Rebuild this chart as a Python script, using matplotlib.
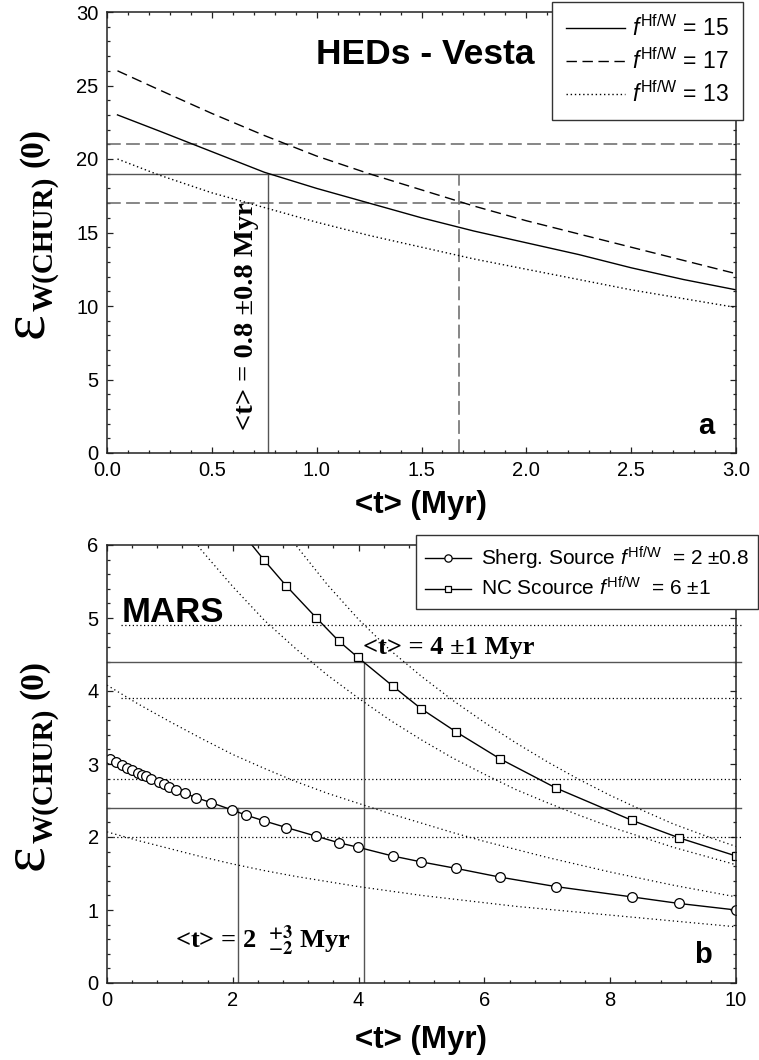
import matplotlib
matplotlib.use('Agg')
import matplotlib.pyplot as plt
from matplotlib.ticker import MultipleLocator, FormatStrFormatter

# ---------------- data: panel a (HEDs - Vesta) ----------------
t_a = [0.05, 0.25, 0.5, 0.75, 1.0, 1.25, 1.5, 1.75, 2.0, 2.25, 2.5, 2.75, 3.0]
eps_f15 = [23.0, 21.9, 20.5, 19.1, 18.0, 17.0, 16.0, 15.1, 14.3, 13.5, 12.6, 11.8, 11.1]
eps_f17 = [26.0, 24.7, 23.1, 21.6, 20.2, 19.0, 17.9, 16.8, 15.8, 14.9, 14.0, 13.1, 12.2]
eps_f13 = [20.0, 18.9, 17.7, 16.7, 15.7, 14.8, 14.0, 13.2, 12.5, 11.8, 11.1, 10.5, 9.9]
labels_a = [r'$\mathit{f}^{\mathrm{Hf/W}}$ = 15',
            r'$\mathit{f}^{\mathrm{Hf/W}}$ = 17',
            r'$\mathit{f}^{\mathrm{Hf/W}}$ = 13']
hlines_a_dashed = [21, 17]
hline_a_solid = 19
vline_a_solid = 0.77
vline_a_dashed = 1.68

# ---------------- data: panel b (MARS) ----------------
t_sherg = [0.04, 0.14, 0.24, 0.32, 0.39, 0.49, 0.55, 0.62, 0.70, 0.83, 0.90, 0.99, 1.10, 1.24,
           1.41, 1.66, 1.99, 2.21, 2.50, 2.85, 3.33, 3.69, 3.99, 4.54, 4.99, 5.55, 6.25, 7.14,
           8.34, 9.09, 10.0]
eps_sherg = [3.07, 3.03, 2.99, 2.95, 2.92, 2.88, 2.85, 2.83, 2.80, 2.75, 2.72, 2.69, 2.65, 2.60,
             2.54, 2.47, 2.37, 2.30, 2.22, 2.13, 2.01, 1.92, 1.86, 1.74, 1.66, 1.57, 1.45, 1.32,
             1.18, 1.09, 1.00]
t_nc = [1.99, 2.21, 2.50, 2.85, 3.33, 3.69, 3.99, 4.54, 4.99, 5.55, 6.25, 7.14, 8.34, 9.09, 10.0]
eps_nc = [6.38, 6.10, 5.79, 5.44, 5.00, 4.68, 4.46, 4.07, 3.76, 3.44, 3.07, 2.67, 2.23, 1.99, 1.74]

t_env = [0, 0.5, 1, 1.5, 2, 2.5, 3, 3.5, 4, 4.5, 5, 5.5, 6, 6.5, 7, 7.5, 8, 8.5, 9, 9.5, 10]
sherg_hi = [4.08, 3.82, 3.58, 3.35, 3.13, 2.94, 2.76, 2.60, 2.46, 2.32, 2.19, 2.06, 1.94, 1.83,
            1.72, 1.62, 1.52, 1.43, 1.34, 1.26, 1.18]
sherg_lo = [2.07, 1.95, 1.84, 1.73, 1.63, 1.54, 1.46, 1.39, 1.32, 1.26, 1.20, 1.15, 1.10, 1.05,
            1.01, 0.97, 0.93, 0.89, 0.85, 0.81, 0.77]
t_nc_lo = [1.0, 1.5, 2, 2.5, 3, 3.5, 4, 4.5, 5, 5.5, 6, 6.5, 7, 7.5, 8, 8.5, 9, 9.5, 10]
nc_lo = [6.50, 5.93, 5.43, 4.97, 4.58, 4.22, 3.90, 3.60, 3.33, 3.08, 2.86, 2.65, 2.47, 2.30,
         2.14, 2.00, 1.86, 1.74, 1.62]
t_nc_hi = [2.5, 3.0, 3.5, 4, 4.5, 5, 5.5, 6, 6.5, 7, 7.5, 8, 8.5, 9, 9.5, 10]
nc_hi = [6.60, 6.00, 5.46, 4.98, 4.56, 4.20, 3.87, 3.57, 3.29, 3.03, 2.79, 2.57, 2.37, 2.18,
         2.02, 1.87]
labels_b = [r'Sherg. Source $\mathit{f}^{\mathrm{Hf/W}}$  = 2 ±0.8',
            r'NC Scource $\mathit{f}^{\mathrm{Hf/W}}$  = 6 ±1']
hlines_b_solid = [4.4, 2.4]
hlines_b_dotted = [4.9, 3.9, 2.8, 2.0]
hlines_b_dotted_start = [0.22, 0.22, 0.1, 0.1]
vlines_b = [(2.09, 2.4), (4.08, 4.4)]

plt.rcParams.update({
    'font.family': ['Liberation Sans', 'DejaVu Sans'],
    'mathtext.fontset': 'custom',
    'mathtext.rm': 'Liberation Sans',
    'mathtext.it': 'Liberation Sans:italic',
    'mathtext.bf': 'Liberation Sans:bold',
})

W, H = 759, 1060
fig = plt.figure(figsize=(W / 100, H / 100), dpi=100)
axA = fig.add_axes([107 / W, 1 - 453 / H, 629 / W, 441 / H])
axB = fig.add_axes([107 / W, 1 - 983 / H, 629 / W, 438 / H])

GRAY = '#666666'
DGRAY = '#555555'
SERIF = 'Liberation Serif'


def style(ax, xmaj, xmin, ymaj, ymin):
    ax.xaxis.set_major_locator(MultipleLocator(xmaj))
    ax.xaxis.set_minor_locator(MultipleLocator(xmin))
    ax.yaxis.set_major_locator(MultipleLocator(ymaj))
    ax.yaxis.set_minor_locator(MultipleLocator(ymin))
    ax.tick_params(which='both', direction='in', top=True, right=True,
                   labelsize=14.5, pad=6, color='#222222')
    ax.tick_params(which='major', length=4.5, width=0.9)
    ax.tick_params(which='minor', length=2.5, width=0.9)
    for s in ax.spines.values():
        s.set_linewidth(1.1)
        s.set_color('#222222')


# ---------------- panel a ----------------
axA.set_xlim(0, 3)
axA.set_ylim(0, 30)
style(axA, 0.5, 0.1, 5, 1)
axA.xaxis.set_major_formatter(FormatStrFormatter('%.1f'))

for yv in hlines_a_dashed:
    axA.plot([0, 3.02], [yv, yv], color=GRAY, lw=1.1, dashes=(9, 3.5), clip_on=False)
axA.plot([0, 3.02], [hline_a_solid, hline_a_solid], color=DGRAY, lw=1.0, clip_on=False)
axA.plot([vline_a_solid, vline_a_solid], [0, hline_a_solid], color=DGRAY, lw=1.0)
axA.plot([vline_a_dashed, vline_a_dashed], [0, hline_a_solid], color=GRAY, lw=1.1, dashes=(9, 3.5))

l15, = axA.plot(t_a, eps_f15, color='black', lw=1.0)
l17, = axA.plot(t_a, eps_f17, color='black', lw=1.0, dashes=(7.5, 4))
l13, = axA.plot(t_a, eps_f13, color='black', lw=1.0, dashes=(1, 2))

legA = axA.legend([l15, l17, l13], labels_a, loc='upper right',
                  bbox_to_anchor=(743 / W, 1 - 2 / H), bbox_transform=fig.transFigure,
                  frameon=True, fancybox=False, edgecolor='#333333', framealpha=1,
                  fontsize=16.5, handlelength=2.6, handletextpad=0.3, labelspacing=0.3,
                  borderpad=0.6, borderaxespad=0)
legA.get_frame().set_linewidth(1.0)

axA.text(1.516, 27.1, 'HEDs - Vesta', fontsize=25.5, fontweight='bold', ha='center', va='center')
axA.text(2.86, 1.84, 'a', fontsize=21, fontweight='bold', ha='center', va='center')
axA.text(0.665, 9.3, '<t> = 0.8 ±0.8 Myr', rotation=90, fontsize=20.5,
         fontfamily=SERIF, fontweight='bold', ha='center', va='center')

# ---------------- panel b ----------------
axB.set_xlim(0, 10)
axB.set_ylim(0, 6)
style(axB, 2, 0.4, 1, 0.2)

for yv in hlines_b_solid:
    axB.plot([0, 10.08], [yv, yv], color=DGRAY, lw=1.0, clip_on=False)
for yv, x0 in zip(hlines_b_dotted, hlines_b_dotted_start):
    axB.plot([x0, 10.08], [yv, yv], color='black', lw=0.9, dashes=(1, 2), clip_on=False)
for xv, ytop in vlines_b:
    axB.plot([xv, xv], [0, ytop], color=DGRAY, lw=1.0)

for tt, ee in [(t_env, sherg_hi), (t_env, sherg_lo), (t_nc_lo, nc_lo), (t_nc_hi, nc_hi)]:
    axB.plot(tt, ee, color='black', lw=0.9, dashes=(1, 2.4))

ls, = axB.plot(t_sherg, eps_sherg, color='black', lw=1.0, marker='o', ms=7,
               mfc='white', mec='black', mew=0.9)
lnc, = axB.plot(t_nc, eps_nc, color='black', lw=1.0, marker='s', ms=6,
                mfc='white', mec='black', mew=0.9)

legB = axB.legend([ls, lnc], labels_b, loc='upper right',
                  bbox_to_anchor=(758 / W, 1 - 535 / H), bbox_transform=fig.transFigure,
                  frameon=True, fancybox=False, edgecolor='#333333', framealpha=1,
                  fontsize=15, handlelength=2.2, handletextpad=0.45, labelspacing=0.25,
                  borderpad=0.45, borderaxespad=0, markerscale=0.75)
legB.get_frame().set_linewidth(1.0)

axB.text(0.24, 5.08, 'MARS', fontsize=25, fontweight='bold', ha='left', va='center')
axB.text(9.48, 0.38, 'b', fontsize=21, fontweight='bold', ha='center', va='center')
axB.text(4.07, 4.60, '<t> = 4 ±1 Myr', fontsize=19, fontfamily=SERIF,
         fontweight='bold', ha='left', va='center')
axB.text(1.08, 0.48, r'<t> = 2 $\ ^{\mathbf{+3}}_{\mathbf{-2}}\ $Myr', fontsize=19,
         fontfamily=SERIF, fontweight='bold', math_fontfamily='stix',
         ha='left', va='baseline')


# ---------------- axis labels ----------------
def ylabel_at(dy):
    kw = dict(rotation=90, rotation_mode='anchor', ha='left', va='baseline', fontfamily=SERIF)
    fig.text(42 / W, 1 - (338 + dy) / H, 'ε', fontsize=44, **kw)
    fig.text(52 / W, 1 - (311 + dy) / H, 'W(CHUR)', fontsize=21, fontweight='bold', **kw)
    fig.text(42 / W, 1 - (167 + dy) / H, '(0)', fontsize=24, fontweight='bold', **kw)


ylabel_at(0)
ylabel_at(532)
fig.text(421 / W, 1 - 505 / H, '<t> (Myr)', fontsize=22.5, fontweight='bold',
         ha='center', va='center')
fig.text(421 / W, 1 - 1040 / H, '<t> (Myr)', fontsize=22.5, fontweight='bold',
         ha='center', va='center')

fig.savefig('out.png', dpi=100)
